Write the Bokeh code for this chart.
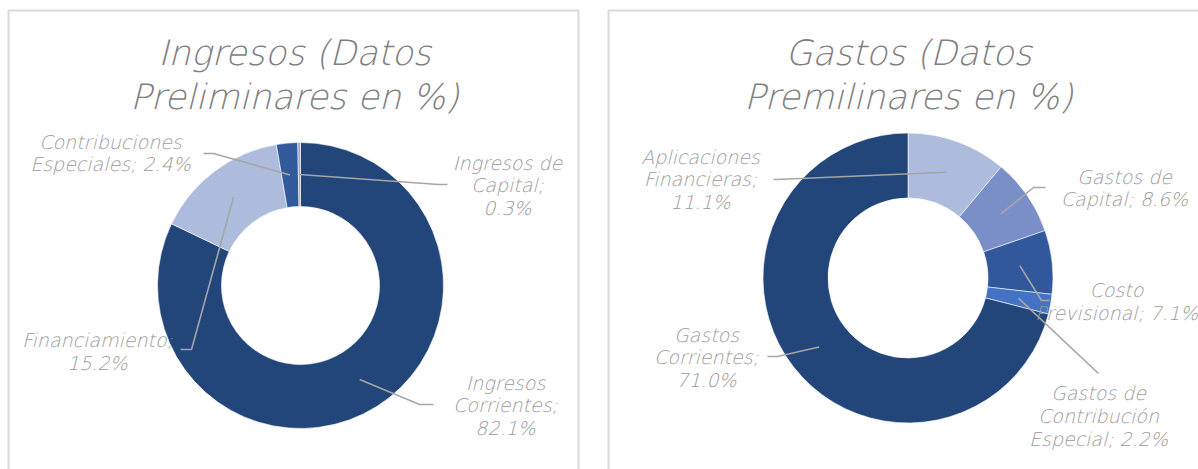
import math
from bokeh.plotting import figure
from bokeh.models import Range1d
from bokeh.core.properties import value
from bokeh.embed import file_html
from bokeh.resources import INLINE

# ---------------- data ----------------
ingresos_title = "Ingresos (Datos\nPreliminares en %)"
ingresos_labels = ["Ingresos Corrientes", "Financiamiento", "Contribuciones Especiales", "Ingresos de Capital"]
ingresos_values = [82.1, 15.2, 2.4, 0.3]

gastos_title = "Gastos (Datos\nPremilinares en %)"
gastos_labels = ["Aplicaciones Financieras", "Gastos de Capital", "Costo Previsional",
                 "Gastos de Contribución Especial", "Gastos Corrientes"]
gastos_values = [11.1, 8.6, 7.1, 2.2, 71.0]

# ---------------- style / layout ----------------
ingresos_colors = ["#22467A", "#ADBCDD", "#335B9C", "#8FA9DA"]
gastos_colors = ["#ADBCDD", "#7A8FC7", "#30589A", "#4472C4", "#22467A"]

# wrapped label texts (how the chart breaks the lines)
ingresos_wrap = ["Ingresos\nCorrientes;\n", "Financiamiento;\n", "Contribuciones\nEspeciales; ", "Ingresos de\nCapital;\n"]
gastos_wrap = ["Aplicaciones\nFinancieras;\n", "Gastos de\nCapital; ", "Costo\nPrevisional; ",
               "Gastos de\nContribución\nEspecial; ", "Gastos\nCorrientes;\n"]

# label anchor (page px) and leader elbow / end (page px)
ingresos_lab_pos = [(505, 405), (97, 351), (110, 152.5), (507, 185)]
ingresos_leader = [((419, 404), (433, 404)), ((191, 349), (180, 349)),
                   ((213, 153), (203, 153)), ((438, 184), (447, 184))]
gastos_lab_pos = [(700, 179), (1124, 187.5), (1116, 301), (1098, 415.5), (706, 357)]
gastos_leader = [((776, 179), (773, 179)), ((1033, 187), (1045, 187)), ((1041, 300), (1049, 300)),
                 ((1098, 373), (1098, 373)), ((777, 356), (767, 356))]

W, H = 1198, 469
X0, Y0 = 0, 0


def Y(py):
    return 469 - py


FONT = value("DejaVu Sans Light")
TITLE_COL = "#7F7F7F"
LAB_COL = "#9A9A9A"
LEAD_COL = "#A6A6A6"
BORDER = "#D9D9D9"

p = figure(width=W, height=H, output_backend="svg", toolbar_location=None,
           x_range=Range1d(X0, X0 + W), y_range=Range1d(Y(Y0 + H), Y(Y0)),
           min_border=0, min_border_left=0, min_border_right=0,
           min_border_top=0, min_border_bottom=0)
p.axis.visible = False
p.grid.visible = False
p.outline_line_color = None
p.background_fill_color = "white"

# panel borders
p.line([8, 8, 578, 578], [Y(480), Y(10), Y(10), Y(480)], line_color=BORDER, line_width=2)
p.line([608, 608, 1210], [Y(480), Y(10), Y(10)], line_color=BORDER, line_width=2)


def donut(cx, cy, r_out, r_in, vals, colors, labels_wrap, lab_pos, leaders, title, title_x):
    total = sum(vals)
    cum = 0.0
    starts, ends, mids = [], [], []
    for v in vals:
        a0 = math.pi / 2 - 2 * math.pi * cum / total
        cum += v
        a1 = math.pi / 2 - 2 * math.pi * cum / total
        starts.append(a0)
        ends.append(a1)
        mids.append((a0 + a1) / 2)
    p.annular_wedge(x=[cx] * len(vals), y=[Y(cy)] * len(vals), inner_radius=r_in, outer_radius=r_out,
                    start_angle=starts, end_angle=ends, direction="clock",
                    fill_color=colors, line_color="white", line_width=0.6)
    rm = (r_out + r_in) / 2
    xs, ys = [], []
    for m, (elb, end) in zip(mids, leaders):
        sx = cx + rm * math.cos(m)
        sy = Y(cy) + rm * math.sin(m)
        xs.append([sx, elb[0], end[0]])
        ys.append([sy, Y(elb[1]), Y(end[1])])
    p.multi_line(xs, ys, line_color=LEAD_COL, line_width=1.6)
    texts = [w + f"{v:.1f}%" for w, v in zip(labels_wrap, vals)]
    p.text(x=[lp[0] for lp in lab_pos], y=[Y(lp[1]) for lp in lab_pos], text=texts,
           text_font=FONT, text_font_style="italic", text_font_size="19px",
           text_color=LAB_COL, text_align="center", text_baseline="middle",
           text_line_height=1.04)
    p.text(x=[title_x], y=[Y(74.5)], text=[title], text_font=FONT, text_font_style="italic",
           text_font_size="35px", text_color=TITLE_COL, text_align="center",
           text_baseline="middle", text_line_height=1.10)


donut(300, 285, 143, 79, ingresos_values, ingresos_colors, ingresos_wrap,
      ingresos_lab_pos, ingresos_leader, ingresos_title, 294)
donut(907.5, 277.5, 145, 80, gastos_values, gastos_colors, gastos_wrap,
      gastos_lab_pos, gastos_leader, gastos_title, 908)

open("out.html", "w").write(file_html(p, INLINE))
